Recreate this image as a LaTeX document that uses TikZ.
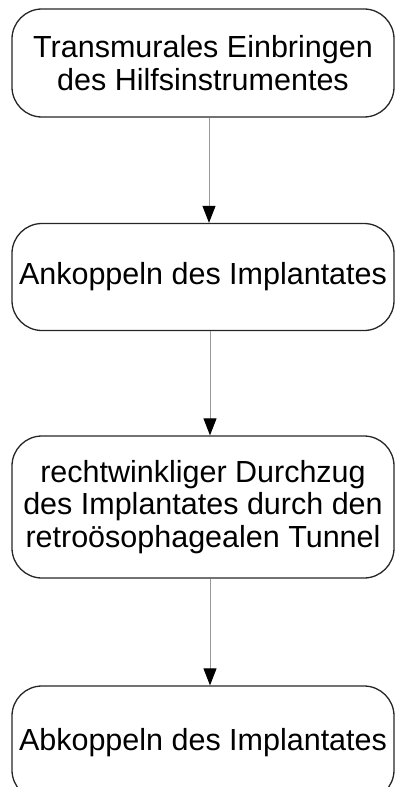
\documentclass[tikz,border=0pt]{standalone}
\usepackage{fontspec}
\setmainfont{Liberation Sans}
\usetikzlibrary{arrows.meta}
\begin{document}
\begin{tikzpicture}[x=1bp,y=1bp,
  stepbox/.style={draw=black!85, line width=1.3bp, rounded corners=30bp,
    minimum width=382bp, inner sep=0pt, align=center, text=black,
    font=\fontsize{30.5bp}{32.5bp}\selectfont},
  flow/.style={draw=black!40, line width=1bp,
    -{Triangle[width=13bp,length=17bp,color=black]}}]
  \useasboundingbox (0,0) rectangle (395,-787);
  \node[stepbox, minimum height=108bp] (b1) at (203,-63)
    {Transmurales Einbringen\\des Hilfsinstrumentes};
  \node[stepbox, minimum height=107bp] (b2) at (203,-277)
    {Ankoppeln des Implantates};
  \node[stepbox, minimum height=142bp] (b3) at (203,-507)
    {rechtwinkliger Durchzug\\des Implantates durch den\\retroösophagealen Tunnel};
  \node[stepbox, minimum height=114bp] (b4) at (203,-743)
    {Abkoppeln des Implantates};
  \draw[flow] ([xshift=6bp]b1.south) -- ([xshift=6bp]b2.north);
  \draw[flow] ([xshift=7bp]b2.south) -- ([xshift=7bp]b3.north);
  \draw[flow] ([xshift=7bp]b3.south) -- ([xshift=7bp]b4.north);
\end{tikzpicture}
\end{document}
